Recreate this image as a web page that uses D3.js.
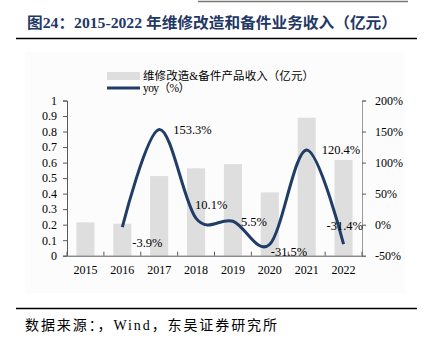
<!DOCTYPE html>
<html><head><meta charset="utf-8">
<script src="https://cdn.jsdelivr.net/npm/d3@7"></script>
<style>
html,body{margin:0;padding:0;background:#fff;}
svg{display:block;}
</style></head>
<body>
<svg id="c" width="425" height="345"></svg>
<script>
const years = ["2015","2016","2017","2018","2019","2020","2021","2022"];
const revenue = [0.215, 0.206, 0.513, 0.563, 0.59, 0.408, 0.889, 0.617];
const yoyYears = ["2016","2017","2018","2019","2020","2021","2022"];
const yoy = [-3.9, 153.3, 10.1, 5.5, -31.5, 120.4, -31.4];
const leftTicks = [0,0.1,0.2,0.3,0.4,0.5,0.6,0.7,0.8,0.9,1];
const rightTicks = [-50,0,50,100,150,200];
const barName = "维修改造&备件产品收入（亿元）";
const lineName = "yoy（%）";
const titleText = "图24：2015-2022 年维修改造和备件业务收入（亿元）";
const sourceText = "数据来源：，Wind，东吴证券研究所";
// label offsets (layout only)
const labelOffsets = [[10,20],[14,5],[-1,-9],[8,5],[1,12],[15,4],[-17,-14]];

const svg = d3.select("#c");
const serif = "'Liberation Serif','Times New Roman','Noto Sans CJK SC',serif";
const cjk = "'Liberation Serif','Noto Sans CJK SC',sans-serif";

// top remnant line
svg.append("line").attr("x1",198).attr("x2",408).attr("y1",1.5).attr("y2",1.5)
  .attr("stroke","#777").attr("stroke-width",1.5);

// title
svg.append("text").attr("x",27).attr("y",28).text(titleText)
  .attr("font-family",cjk).attr("font-weight","bold").attr("font-size",15)
  .attr("textLength",370).attr("lengthAdjust","spacingAndGlyphs")
  .attr("fill","#1f3864");
svg.append("line").attr("x1",16).attr("x2",417).attr("y1",38.5).attr("y2",38.5)
  .attr("stroke","#000").attr("stroke-width",1.5);

// faint chart bg
svg.append("rect").attr("x",25).attr("y",52).attr("width",380).attr("height",241).attr("fill","#fcfcfc");

const x = d3.scaleBand().domain(years).range([67,362]).padding(0);
const yL = d3.scaleLinear().domain([0,1]).range([255.7,100.5]);
const yR = d3.scaleLinear().domain([-50,200]).range([255.7,100.5]);
const axisColor = "#595959";

// bars
const bw = x.bandwidth()*0.49;
svg.append("g").selectAll("rect").data(years).join("rect")
  .attr("x",(d)=>x(d)+x.bandwidth()/2-bw/2)
  .attr("y",(d,i)=>yL(revenue[i]))
  .attr("width",bw)
  .attr("height",(d,i)=>yL(0)-yL(revenue[i]))
  .attr("fill","#dedede");

// left axis
const gL = svg.append("g").attr("transform","translate(67,0)")
  .call(d3.axisLeft(yL).tickValues(leftTicks).tickSize(4).tickPadding(6).tickFormat(d=>d3.format("")(d)));
// right axis
const gR = svg.append("g").attr("transform","translate(362,0)")
  .call(d3.axisRight(yR).tickValues(rightTicks).tickSize(4).tickPadding(9).tickFormat(d=>d+"%"));
// bottom axis
const gB = svg.append("g").attr("transform","translate(0,255.7)")
  .call(d3.axisBottom(x).tickSize(0).tickPadding(10));
// boundary ticks
svg.append("g").selectAll("line").data(years.concat(["end"])).join("line")
  .attr("x1",(d,i)=>67+i*x.step()).attr("x2",(d,i)=>67+i*x.step())
  .attr("y1",255.7).attr("y2",251.7).attr("stroke",axisColor);

[gL,gR,gB].forEach(g=>{
  g.selectAll("path").attr("stroke",axisColor);
  g.selectAll("line").attr("stroke",axisColor);
  g.selectAll("text").attr("font-family",serif).attr("font-size",12).attr("fill","#000");
});
gR.select("path").attr("stroke","#9a9a9a");
gB.selectAll("text").attr("dy","0.71em");

// line
const line = d3.line()
  .x((d,i)=>x(yoyYears[i])+x.bandwidth()/2)
  .y(d=>yR(d))
  .curve(d3.curveCardinal.tension(0));
svg.append("path").datum(yoy).attr("d",line)
  .attr("fill","none").attr("stroke","#1f3d66").attr("stroke-width",3);

// labels
svg.append("g").selectAll("text").data(yoy).join("text")
  .attr("x",(d,i)=>x(yoyYears[i])+x.bandwidth()/2+labelOffsets[i][0])
  .attr("y",(d,i)=>yR(d)+labelOffsets[i][1])
  .text(d=>d.toFixed(1)+"%")
  .attr("font-family",serif).attr("font-size",12.5).attr("fill","#000");

// legend
svg.append("rect").attr("x",107).attr("y",72).attr("width",33).attr("height",8).attr("fill","#dedede");
svg.append("text").attr("x",143).attr("y",80).text(barName)
  .attr("font-family",cjk).attr("font-size",11.5).attr("fill","#000")
  .attr("textLength",171).attr("lengthAdjust","spacing");
svg.append("line").attr("x1",107).attr("x2",140).attr("y1",88).attr("y2",88)
  .attr("stroke","#1f3d66").attr("stroke-width",3);
svg.append("text").attr("x",143).attr("y",92).text(lineName)
  .attr("font-family",cjk).attr("font-size",11.5).attr("fill","#000")
  .attr("textLength",47).attr("lengthAdjust","spacing");

// source
svg.append("line").attr("x1",16).attr("x2",417).attr("y1",308.5).attr("y2",308.5)
  .attr("stroke","#000").attr("stroke-width",1.5);
svg.append("text").attr("x",25).attr("y",330).text(sourceText)
  .attr("font-family",cjk).attr("font-size",14).attr("fill","#000")
  .attr("textLength",252).attr("lengthAdjust","spacing");
</script>
</body></html>
